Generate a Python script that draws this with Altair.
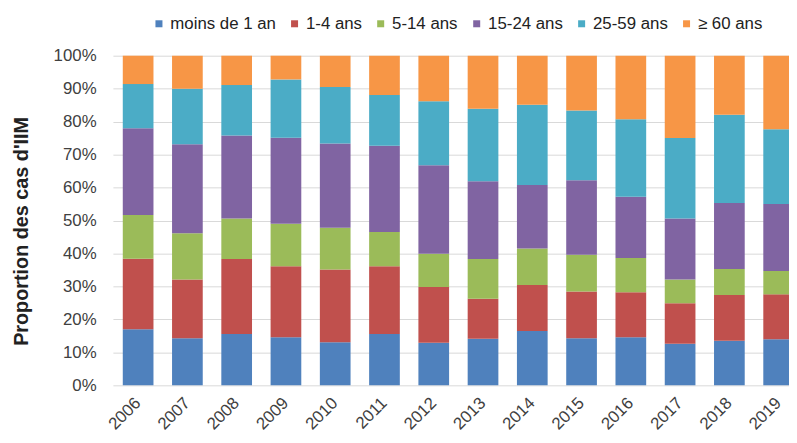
import altair as alt
import pandas as pd

years = [str(y) for y in range(2006, 2020)]
groups = ["moins de 1 an", "1-4 ans", "5-14 ans", "15-24 ans", "25-59 ans", "≥ 60 ans"]
colors = ["#4F81BD", "#C0504D", "#9BBB59", "#8064A2", "#4BACC6", "#F79646"]

lt1 = [17.0, 14.3, 15.6, 14.6, 13.1, 15.6, 12.9, 14.1, 16.5, 14.3, 14.6, 12.6, 13.5, 14.0]
a1_4 = [21.4, 17.8, 22.7, 21.5, 22.0, 20.5, 16.9, 12.2, 13.9, 14.2, 13.6, 12.3, 13.9, 13.6]
a5_14 = [13.3, 14.0, 12.3, 12.9, 12.7, 10.4, 10.1, 12.0, 11.1, 11.1, 10.4, 7.2, 7.9, 7.1]
a15_24 = [26.3, 27.0, 25.2, 26.1, 25.6, 26.2, 26.9, 23.6, 19.3, 22.6, 18.6, 18.5, 20.0, 20.3]
a25_59 = [13.4, 16.9, 15.3, 17.7, 17.1, 15.4, 19.4, 22.0, 24.3, 21.2, 23.5, 24.4, 26.8, 22.7]
a60 = [8.6, 10.0, 8.9, 7.2, 9.5, 11.9, 13.8, 16.1, 14.9, 16.6, 19.3, 25.0, 17.9, 22.3]

series = [lt1, a1_4, a5_14, a15_24, a25_59, a60]
rows = []
for gi, (g, vals) in enumerate(zip(groups, series)):
    for y, v in zip(years, vals):
        rows.append({"year": y, "group": g, "value": v, "order": gi})
df = pd.DataFrame(rows)

chart = alt.Chart(df).mark_bar().encode(
    x=alt.X("year:N", sort=years, title=None,
            scale=alt.Scale(range=[0, 698], paddingInner=0.377, paddingOuter=0.2),
            axis=alt.Axis(labelAngle=-45, labelAlign="right", labelBaseline="middle",
                          labelFontSize=17, labelColor="#404040", labelPadding=15,
                          ticks=False, domain=False, grid=False)),
    y=alt.Y("value:Q", stack="normalize", scale=alt.Scale(domain=[0, 1]),
            title="Proportion des cas d'IIM",
            axis=alt.Axis(values=[i / 10 for i in range(11)], format=".0%",
                          labelFontSize=17, labelColor="#404040", labelPadding=17,
                          ticks=False, domain=False, grid=True, gridColor="#d9d9d9",
                          titleFontSize=20, titleFontWeight="bold", titleColor="#222222",
                          titleX=-92, titleY=177, titleAlign="center", titleBaseline="middle")),
    color=alt.Color("group:N", sort=groups,
                    scale=alt.Scale(domain=groups, range=colors),
                    legend=alt.Legend(title=None, orient="none", legendX=38, legendY=-41,
                                      direction="horizontal", columns=6,
                                      symbolType="square", symbolSize=50, symbolStrokeWidth=0,
                                      labelFontSize=17, labelColor="#222222", labelOffset=3,
                                      columnPadding=10, padding=0)),
    order=alt.Order("order:Q", sort="ascending"),
).properties(
    width=683, height=333,
    autosize=alt.AutoSizeParams(type="none"),
    padding={"left": 106, "top": 46, "right": 0, "bottom": 48},
).configure(font="Liberation Sans").configure_view(stroke=None)

chart.save("out.html", embed_options={"renderer": "svg", "actions": False})
